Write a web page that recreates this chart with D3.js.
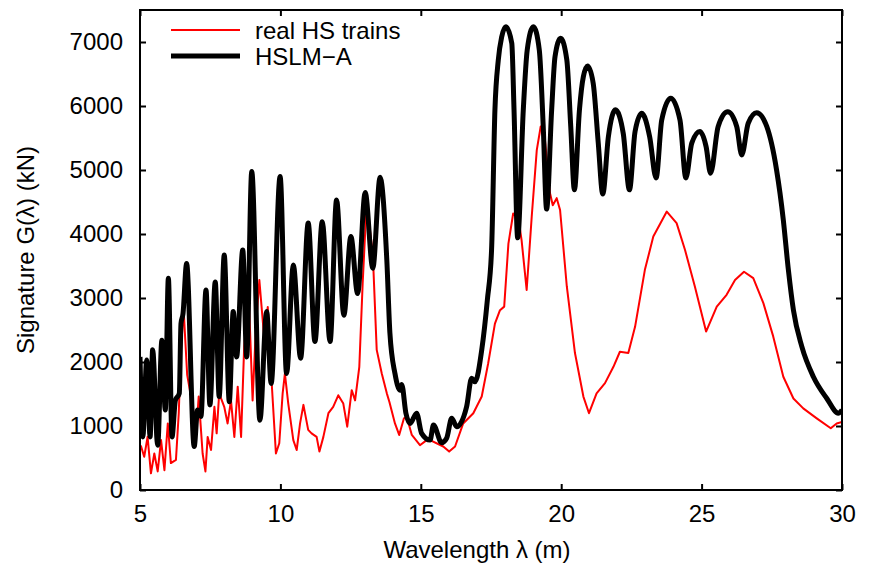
<!DOCTYPE html>
<html>
<head>
<meta charset="utf-8">
<script src="https://cdn.jsdelivr.net/npm/d3@7"></script>
<style>
  body { margin: 0; background: #fff; }
  text { font-family: "Liberation Sans", Arial, Helvetica, sans-serif; }
</style>
</head>
<body>
<svg id="chart" width="896" height="564"></svg>
<script>
// Signature G(lambda) of real HS trains vs HSLM-A

var xTicks = [5, 10, 15, 20, 25, 30];
var yTicks = [0, 1000, 2000, 3000, 4000, 5000, 6000, 7000];
var seriesNames = ["real HS trains", "HSLM\u2212A"];

// [wavelength (m), G (kN)]
var realTrains = [
  [5.00, 700], [5.04, 680], [5.15, 520], [5.27, 830], [5.39, 260], [5.51, 570],
  [5.63, 290], [5.75, 780], [5.87, 310], [5.99, 1040], [6.10, 420], [6.28, 470],
  [6.38, 1200], [6.45, 2100], [6.55, 2850], [6.68, 1800], [6.80, 1500],
  [6.88, 1350], [6.97, 680], [7.09, 1460], [7.23, 570], [7.33, 290], [7.41, 830],
  [7.53, 625], [7.65, 1300], [7.73, 885], [7.82, 1510], [8.00, 1300], [8.12, 1040],
  [8.24, 1400], [8.36, 830], [8.48, 1615], [8.60, 830], [8.71, 2240], [8.87, 3070],
  [9.01, 1400], [9.13, 2550], [9.25, 3280], [9.43, 2340], [9.55, 2860], [9.67, 1820],
  [9.84, 570], [9.96, 730], [10.08, 1510], [10.16, 1820], [10.28, 1350], [10.46, 780],
  [10.58, 625], [10.70, 1040], [10.82, 1330], [10.99, 940], [11.11, 885], [11.29, 830],
  [11.39, 600], [11.53, 830], [11.71, 1200], [11.88, 1300], [12.06, 1480], [12.24, 1350],
  [12.38, 990], [12.54, 1560], [12.66, 1400], [12.81, 1925], [12.93, 3230], [13.07, 4480],
  [13.29, 3700], [13.43, 2190], [13.61, 1820], [13.79, 1510], [13.88, 1380], [14.08, 1040],
  [14.23, 860], [14.40, 1120], [14.50, 1145], [14.68, 860], [14.97, 700], [15.21, 780],
  [15.33, 780], [15.80, 680], [16.01, 600], [16.22, 680], [16.51, 1040], [16.87, 1200],
  [17.17, 1460], [17.40, 1980], [17.64, 2600], [17.82, 2810], [17.97, 2865], [18.12, 3850],
  [18.29, 4320], [18.47, 4270], [18.59, 3900], [18.77, 3125], [18.95, 4270], [19.13, 5310],
  [19.27, 5680], [19.42, 5470], [19.60, 4640], [19.70, 4450], [19.84, 4560], [19.96, 4375],
  [20.20, 3180], [20.49, 2140], [20.79, 1460], [20.99, 1200], [21.26, 1510], [21.56, 1670],
  [21.86, 1925], [22.09, 2160], [22.39, 2140], [22.63, 2550], [22.98, 3440], [23.28, 3960],
  [23.76, 4350], [24.11, 4170], [24.41, 3750], [24.76, 3180], [25.16, 2475], [25.54, 2865],
  [25.89, 3050], [26.19, 3280], [26.51, 3410], [26.84, 3310], [27.20, 2920], [27.55, 2400],
  [27.91, 1770], [28.27, 1430], [28.62, 1275], [29.10, 1120], [29.60, 965], [29.81, 1040],
  [30.00, 1065]
];

var hslmA = [
  [5.00, 2080], [5.10, 830], [5.24, 2030], [5.36, 830], [5.45, 2190], [5.63, 700],
  [5.78, 2340], [5.90, 1250], [6.01, 3310], [6.14, 830], [6.26, 1400], [6.40, 1510],
  [6.46, 2600], [6.53, 2750], [6.66, 3540], [6.93, 680], [7.05, 1250], [7.17, 1150],
  [7.35, 3125], [7.49, 1330], [7.68, 3250], [7.82, 1460], [8.00, 3670], [8.18, 1380],
  [8.32, 2790], [8.44, 2080], [8.66, 3750], [8.80, 2080], [8.98, 4975], [9.27, 1090],
  [9.51, 2790], [9.67, 1665], [9.99, 4900], [10.22, 1820], [10.46, 3515], [10.72, 2060],
  [10.99, 4170], [11.23, 2320], [11.49, 4190], [11.77, 2320], [12.00, 4530], [12.26, 2730],
  [12.51, 3960], [12.75, 3070], [13.02, 4650], [13.29, 3465], [13.55, 4885], [13.79, 3590],
  [13.90, 2450], [14.08, 1820], [14.26, 1560], [14.32, 1650], [14.47, 1200], [14.62, 1040],
  [14.85, 1200], [15.03, 885], [15.33, 780], [15.45, 1015], [15.74, 740], [15.92, 810],
  [16.10, 1120], [16.28, 990], [16.63, 1300], [16.81, 1745], [16.93, 1690], [17.17, 2190],
  [17.37, 2970], [17.52, 3750], [17.64, 5940], [17.76, 6720], [17.88, 7080], [18.03, 7240],
  [18.24, 6980], [18.32, 5940], [18.45, 3940], [18.65, 5940], [18.79, 6875], [19.01, 7240],
  [19.22, 6875], [19.36, 5680], [19.48, 4390], [19.66, 5940], [19.78, 6770], [19.98, 7060],
  [20.20, 6720], [20.34, 5680], [20.47, 4690], [20.65, 5940], [20.79, 6460], [20.94, 6625],
  [21.14, 6355], [21.32, 5420], [21.48, 4625], [21.68, 5520], [21.93, 5940], [22.21, 5570],
  [22.43, 4690], [22.63, 5600], [22.87, 5885], [23.15, 5520], [23.38, 4875], [23.58, 5780],
  [23.90, 6120], [24.23, 5780], [24.44, 4875], [24.65, 5420], [24.94, 5600], [25.16, 5365],
  [25.32, 4950], [25.59, 5680], [25.93, 5910], [26.25, 5680], [26.43, 5235], [26.66, 5730],
  [26.96, 5895], [27.32, 5680], [27.67, 5000], [27.91, 4220], [28.09, 3440], [28.27, 2810],
  [28.57, 2240], [28.98, 1770], [29.46, 1430], [29.87, 1200], [30.00, 1250]
];

var margin = { left: 140, right: 54, top: 10, bottom: 74 },
    width = 896 - margin.left - margin.right,
    height = 564 - margin.top - margin.bottom;

var svg = d3.select("#chart");
var g = svg.append("g")
  .attr("transform", "translate(" + margin.left + "," + margin.top + ")");

var x = d3.scaleLinear().domain([5, 30]).range([0, width]);
var y = d3.scaleLinear().domain([0, 7500]).range([height, 0]);

g.append("clipPath").attr("id", "plot-clip")
  .append("rect").attr("width", width).attr("height", height);

// axes, ticks pointing inward on all four sides
function styleAxis(sel) {
  sel.select(".domain").remove();
  sel.selectAll(".tick line").attr("stroke", "#000").attr("stroke-width", 2);
  sel.selectAll(".tick text")
    .attr("fill", "#000")
    .style("font-size", "24px");
}

g.append("g")
  .attr("transform", "translate(0," + height + ")")
  .call(d3.axisBottom(x).tickValues(xTicks).tickSize(-6).tickPadding(15)
    .tickFormat(d3.format("d")))
  .call(styleAxis);

g.append("g")
  .call(d3.axisTop(x).tickValues(xTicks).tickSize(-6).tickFormat(""))
  .call(styleAxis);

g.append("g")
  .call(d3.axisLeft(y).tickValues(yTicks).tickSize(-6).tickPadding(17)
    .tickFormat(d3.format("d")))
  .call(styleAxis);

g.append("g")
  .attr("transform", "translate(" + width + ",0)")
  .call(d3.axisRight(y).tickValues(yTicks).tickSize(-6).tickFormat(""))
  .call(styleAxis);

// the curves
var line = d3.line()
  .x(function(d) { return x(d[0]); })
  .y(function(d) { return y(d[1]); });

g.append("path")
  .datum(realTrains)
  .attr("clip-path", "url(#plot-clip)")
  .attr("fill", "none")
  .attr("stroke", "#ff0000")
  .attr("stroke-width", 2)
  .attr("stroke-linejoin", "round")
  .attr("d", line.curve(d3.curveLinear));

g.append("path")
  .datum(hslmA)
  .attr("clip-path", "url(#plot-clip)")
  .attr("fill", "none")
  .attr("stroke", "#000")
  .attr("stroke-width", 5)
  .attr("stroke-linejoin", "round")
  .attr("d", line.curve(d3.curveMonotoneX));

// frame
g.append("rect")
  .attr("width", width)
  .attr("height", height)
  .attr("fill", "none")
  .attr("stroke", "#000")
  .attr("stroke-width", 2);

// legend
var legend = g.append("g").attr("transform", "translate(31,20)");
[{ color: "#ff0000", w: 2 }, { color: "#000", w: 5 }].forEach(function(s, i) {
  legend.append("line")
    .attr("x1", 0).attr("x2", 69)
    .attr("y1", i * 26).attr("y2", i * 26)
    .attr("stroke", s.color)
    .attr("stroke-width", s.w);
  legend.append("text")
    .attr("x", 84)
    .attr("y", i * 26)
    .attr("dy", "0.36em")
    .style("font-size", "24px")
    .text(seriesNames[i]);
});

// axis titles
svg.append("text")
  .attr("x", margin.left + width / 2 - 14)
  .attr("y", 558)
  .attr("text-anchor", "middle")
  .style("font-size", "24px")
  .text("Wavelength \u03bb (m)");

svg.append("text")
  .attr("transform", "translate(34," + (margin.top + height / 2) + ") rotate(-90)")
  .attr("text-anchor", "middle")
  .style("font-size", "24px")
  .text("Signature G(\u03bb) (kN)");
</script>
</body>
</html>
